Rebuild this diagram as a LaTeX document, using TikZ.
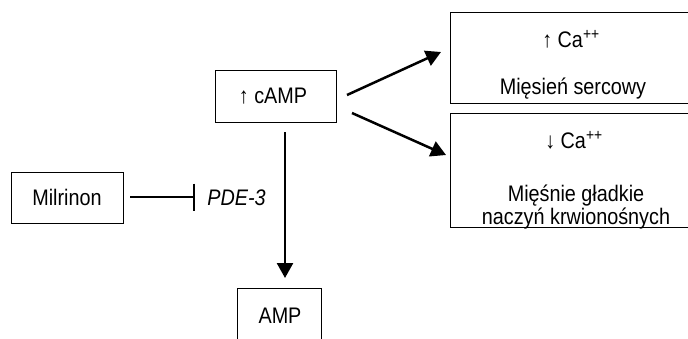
\documentclass[tikz,border=0pt]{standalone}
\usepackage{fontspec}
\setmainfont{Liberation Sans}[FakeStretch=0.88]
\usetikzlibrary{arrows.meta}
\begin{document}
\begin{tikzpicture}[x=1pt,y=-1pt,
  every node/.style={font=\fontsize{22.5}{26}\selectfont, inner sep=0pt},
  box/.style={draw, line width=0.9pt, rectangle},
  lbl/.style={anchor=base},
  arr/.style={line width=2.5pt, -{Triangle[length=15pt,width=16pt]}},
  inh/.style={line width=2.4pt, -{Bar[width=27pt,line width=2.4pt]}}]
\useasboundingbox (0,0) rectangle (688,338);
\clip (0,0) rectangle (688,338);
% boxes
\node[box, minimum width=121pt, minimum height=52pt] (camp) at (275.5,96) {};
\node[box, minimum width=112pt, minimum height=51pt] (mil) at (67,197.5) {};
\node[box, minimum width=84pt, minimum height=68pt, anchor=north] (amp) at (279,288) {};
\node[box, minimum width=260pt, minimum height=91pt, anchor=north west] (cup) at (450,12) {};
\node[box, minimum width=260pt, minimum height=114pt, anchor=north west] (cdown) at (450,113) {};
% labels
\node[lbl] (tcamp) at (273,103) {↑ cAMP};
\node[lbl] (tmil) at (67,205.5) {Milrinon};
\node[lbl] (tamp) at (280,323) {AMP};
\node[lbl] (pde) at (236.5,205) {\itshape PDE-3};
\node[lbl] (t1) at (571,47) {↑ Ca\textsuperscript{++}};
\node[lbl] (t2) at (573,94) {Mięsień sercowy};
\node[lbl] (t3) at (574,148) {↓ Ca\textsuperscript{++}};
\node[lbl] (t4) at (576,201) {Mięśnie gładkie};
\node[lbl] (t5) at (576,224) {naczyń krwionośnych};
% connectors
\coordinate (a1s) at (347,95);
\coordinate (a1e) at (441,52);
\coordinate (a2s) at (352,113);
\coordinate (a2e) at (446,155);
\coordinate (vs) at (285,132);
\coordinate (ve) at (285,278);
\coordinate (is) at (130,197);
\coordinate (ie) at (195,197);
\draw[arr] (a1s) -- (a1e);
\draw[arr] (a2s) -- (a2e);
\draw[arr] (vs) -- (ve);
\draw[inh] (is) -- (ie);
\end{tikzpicture}
\end{document}
